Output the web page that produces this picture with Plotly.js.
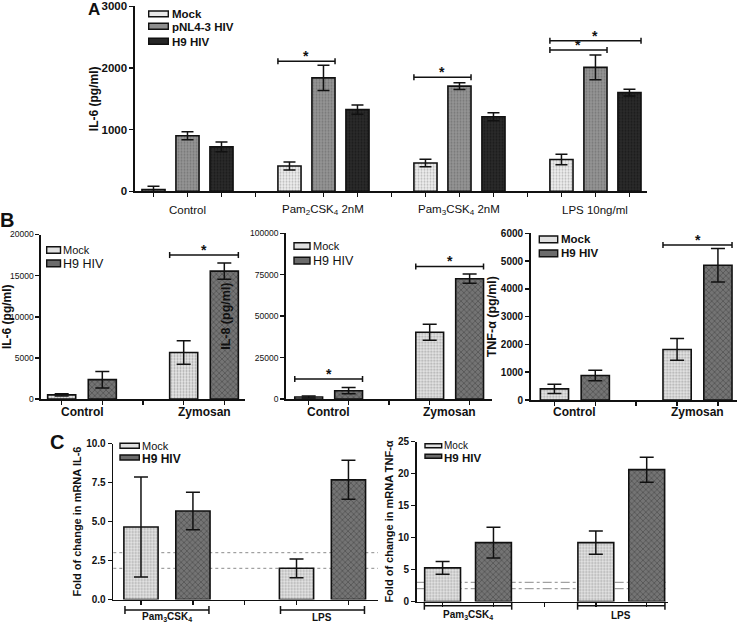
<!DOCTYPE html>
<html><head><meta charset="utf-8">
<script src="https://cdn.plot.ly/plotly-3.0.1.min.js"></script>
<style>html,body{margin:0;padding:0;background:#fff}#chart{width:741px;height:623px}</style>
</head><body><div id="chart"></div>
<script>
// ---------------- DATA ----------------
// Panel A : IL-6 (pg/ml)
const catsA = ['Control', 'Pam<sub>2</sub>CSK<sub>4</sub> 2nM', 'Pam<sub>3</sub>CSK<sub>4</sub> 2nM', 'LPS 10ng/ml'];
const seriesA = ['Mock', 'pNL4-3 HIV', 'H9 HIV'];
const mockA = [30, 410, 460, 515];
const mockAerr = [50, 65, 60, 85];
const pnlA = [900, 1840, 1705, 2010];
const pnlAerr = [65, 205, 55, 200];
const h9A = [720, 1325, 1210, 1600];
const h9Aerr = [80, 75, 65, 55];

// Panel B
const catsB = ['Control', 'Zymosan'];
const seriesB = ['Mock', 'H9 HIV'];
const il6Mock = [500, 5650];
const il6MockErr = [150, 1430];
const il6H9 = [2350, 15550];
const il6H9Err = [1000, 990];
const il8Mock = [1200, 40300];
const il8MockErr = [600, 4800];
const il8H9 = [5000, 72600];
const il8H9Err = [1900, 2800];
const tnfMock = [400, 1820];
const tnfMockErr = [170, 390];
const tnfH9 = [880, 4850];
const tnfH9Err = [190, 600];

// Panel C : fold change in mRNA
const catsC = ['Pam<sub>3</sub>CSK<sub>4</sub>', 'LPS'];
const seriesC = ['Mock', 'H9 HIV'];
const il6FoldMock = [4.65, 2.0];
const il6FoldMockErr = [3.2, 0.6];
const il6FoldH9 = [5.67, 7.67];
const il6FoldH9Err = [1.2, 1.25];
const tnfFoldMock = [5.25, 9.2];
const tnfFoldMockErr = [1.0, 1.8];
const tnfFoldH9 = [9.2, 20.6];
const tnfFoldH9Err = [2.4, 1.95];
const refLines = [2, 3];

// ---------------- STYLE / LAYOUT ----------------
const W = 741, H = 623;
const FONT = '"Liberation Sans", Arial, Helvetica, sans-serif';
const px = x => x / W;
const py = y => 1 - y / H;
const INK = '#111';

const STY = {
  mockA: {color: '#e8e8e8', pattern: {shape: '.', bgcolor: '#efefef', fgcolor: '#b8b8b8', size: 3, solidity: 0.35}},
  pnlA:  {color: '#8e8e8e', pattern: {shape: '.', bgcolor: '#969696', fgcolor: '#767676', size: 3, solidity: 0.35}},
  h9A:   {color: '#262626', pattern: {shape: '.', bgcolor: '#2b2b2b', fgcolor: '#1a1a1a', size: 3, solidity: 0.35}},
  mock:  {color: '#e0e0e0', pattern: {shape: '.', bgcolor: '#e8e8e8', fgcolor: '#a8a8a8', size: 3, solidity: 0.4}},
  h9:    {color: '#6b6b6b', pattern: {shape: 'x', bgcolor: '#747474', fgcolor: '#4c4c4c', size: 4, solidity: 0.3}}
};

const bold = (size) => ({family: FONT, size: size, color: INK, weight: 'bold'});
const norm = (size) => ({family: FONT, size: size, color: INK});

const panels = [
  {n: 1, cats: catsA,
   series: [{name: seriesA[0], y: mockA, err: mockAerr, st: 'mockA'},
            {name: seriesA[1], y: pnlA, err: pnlAerr, st: 'pnlA'},
            {name: seriesA[2], y: h9A, err: h9Aerr, st: 'h9A'}],
   xd: [135, 647], yd: [191.3, 6.3], xr: [-0.386, 3.379], yr: [0, 3000], dtick: 1000, fmt: 'd',
   slot: 0.25, bw: 0.17, cap: 6,
   tickFont: bold(11.5), title: 'IL-6 (pg/ml)', titleFont: bold(12), standoff: 0,
   labelY: 210, labelFont: norm(11.5),
   legend: {x0: 148.7, x1: 168.3, tx: 170, rows: [[11, 16.7, 13.5], [23.3, 29.3, 27], [38.3, 44.3, 41.5]],
            fonts: [bold(11.5), bold(11.5), bold(11.5)]},
   sig: [{c: 1, a: 0, b: 1, y: 2110}, {c: 2, a: 0, b: 1, y: 1850}, {c: 3, a: 0, b: 1, y: 2290}, {c: 3, a: 0, b: 2, y: 2440}],
   groups: null},
  {n: 2, cats: catsB,
   series: [{name: seriesB[0], y: il6Mock, err: il6MockErr, st: 'mock'},
            {name: seriesB[1], y: il6H9, err: il6H9Err, st: 'h9'}],
   xd: [41, 245], yd: [399, 234.5], xr: [-0.336, 1.336], yr: [0, 20000], dtick: 5000, fmt: 'd',
   slot: 0.333, bw: 0.23, cap: 7,
   tickFont: norm(8.5), title: 'IL-6 (pg/ml)', titleFont: bold(12), standoff: 0,
   labelY: 411.5, labelFont: bold(12),
   legend: {x0: 46.7, x1: 60.5, tx: 61, rows: [[246.7, 253.3, 250], [260, 266.7, 263.5]],
            fonts: [norm(11), norm(12.5)]},
   sig: [{c: 1, a: 0, b: 1, y: 17500}], groups: null},
  {n: 3, cats: catsB,
   series: [{name: seriesB[0], y: il8Mock, err: il8MockErr, st: 'mock'},
            {name: seriesB[1], y: il8H9, err: il8H9Err, st: 'h9'}],
   xd: [285.7, 492], yd: [399, 233.3], xr: [-0.355, 1.35], yr: [0, 100000], dtick: 25000, fmt: 'd',
   slot: 0.33, bw: 0.23, cap: 7,
   tickFont: norm(8.5), title: 'IL-8 (pg/ml)', titleFont: bold(12.5), standoff: 16,
   labelY: 411.5, labelFont: bold(12),
   legend: {x0: 294, x1: 310, tx: 311, rows: [[242.7, 249.3, 246], [257.3, 264, 260.5]],
            fonts: [norm(11), norm(12.5)]},
   sig: [{c: 0, a: 0, b: 1, y: 12100}, {c: 1, a: 0, b: 1, y: 80000}], groups: null},
  {n: 4, cats: catsB,
   series: [{name: seriesB[0], y: tnfMock, err: tnfMockErr, st: 'mock'},
            {name: seriesB[1], y: tnfH9, err: tnfH9Err, st: 'h9'}],
   xd: [530.7, 737], yd: [400, 233.3], xr: [-0.36, 1.322], yr: [0, 6000], dtick: 1000, fmt: 'd',
   slot: 0.333, bw: 0.23, cap: 7,
   tickFont: bold(10), title: 'TNF-α (pg/ml)', titleFont: bold(12.5), standoff: 1,
   labelY: 411.5, labelFont: bold(12),
   legend: {x0: 539.3, x1: 557.7, tx: 558.5, rows: [[236, 242.7, 239.5], [250, 256.7, 253]],
            fonts: [bold(11.5), bold(11.5)]},
   sig: [{c: 1, a: 0, b: 1, y: 5580}], groups: null},
  {n: 5, cats: catsC,
   series: [{name: seriesC[0], y: il6FoldMock, err: il6FoldMockErr, st: 'mock'},
            {name: seriesC[1], y: il6FoldH9, err: il6FoldH9Err, st: 'h9'}],
   xd: [113.3, 378], yd: [599.5, 443.5], xr: [-0.345, 1.357], yr: [0, 10], dtick: 2.5, fmt: '.1f',
   slot: 0.334, bw: 0.22, cap: 7,
   tickFont: bold(10), title: 'Fold of change in mRNA IL-6', titleFont: bold(11), standoff: 2,
   labelY: 617, labelFont: bold(10), refDash: 'dot',
   legend: {x0: 120, x1: 139.3, tx: 139.5, rows: [[443.3, 448.3, 445.5], [455, 460, 458.5]],
            fonts: [norm(11), bold(12)]},
   sig: [], groups: {y: 610, half: 0.27}},
  {n: 6, cats: catsC,
   series: [{name: seriesC[0], y: tnfFoldMock, err: tnfFoldMockErr, st: 'mock'},
            {name: seriesC[1], y: tnfFoldH9, err: tnfFoldH9Err, st: 'h9'}],
   xd: [416.7, 668], yd: [601.5, 441.5], xr: [-0.335, 1.305], yr: [0, 25], dtick: 5, fmt: 'd',
   slot: 0.332, bw: 0.234, cap: 7,
   tickFont: bold(10), title: 'Fold of change in mRNA TNF-α', titleFont: bold(11), standoff: 2,
   labelY: 615, labelFont: bold(10), refDash: 'dashdot',
   legend: {x0: 425, x1: 441.7, tx: 442, rows: [[443.8, 447.8, 445], [454.3, 458.3, 457.5]],
            fonts: [norm(10), bold(11.5)]},
   sig: [], groups: {y: 605.7, half: 0.285}}
];

const traces = [], shapes = [], annotations = [];
const layout = {
  width: W, height: H, margin: {l: 0, r: 0, t: 0, b: 0},
  paper_bgcolor: '#fff', plot_bgcolor: 'rgba(0,0,0,0)',
  barmode: 'overlay', showlegend: false,
  font: {family: FONT, color: INK},
  shapes: shapes, annotations: annotations
};

function vline(xref, x, yref, yc, h) {
  shapes.push({type: 'line', xref: xref, yref: yref, x0: x, x1: x, ysizemode: 'pixel', yanchor: yc,
               y0: -h, y1: h, line: {color: INK, width: 1.5}});
}

panels.forEach(p => {
  const sfx = p.n === 1 ? '' : String(p.n);
  const xr = 'x' + sfx, yr = 'y' + sfx;
  const k = p.series.length;
  const off = j => (j - (k - 1) / 2) * p.slot;
  const xs = p.cats.map((c, i) => i);

  p.series.forEach((s, j) => {
    const st = STY[s.st];
    traces.push({
      type: 'bar', name: s.name, x: xs, y: s.y, xaxis: xr, yaxis: yr,
      width: p.bw, offset: off(j) - p.bw / 2,
      marker: {color: st.color, pattern: st.pattern, line: {color: INK, width: 1.6}},
      error_y: {type: 'data', array: s.err, visible: true, color: INK, thickness: 1.5, width: p.cap},
      hoverinfo: 'skip'
    });
  });

  // tick marks at bar centres and between groups
  const tv = [];
  xs.forEach(i => {
    p.series.forEach((s, j) => tv.push(i + off(j)));
    if (i < xs.length - 1) tv.push(i + 0.5);
  });

  layout['xaxis' + sfx] = {
    domain: [px(p.xd[0]), px(p.xd[1])], range: p.xr, anchor: yr,
    showgrid: false, zeroline: false, showline: true, linecolor: INK, linewidth: 1.6,
    ticks: 'outside', ticklen: 4, tickwidth: 1.5, tickcolor: INK,
    tickmode: 'array', tickvals: tv, ticktext: tv.map(() => ' '), showticklabels: false, fixedrange: true
  };
  layout['yaxis' + sfx] = {
    domain: [py(p.yd[0]), py(p.yd[1])], range: p.yr, anchor: xr,
    showgrid: false, zeroline: false, showline: true, linecolor: INK, linewidth: 1.6,
    ticks: 'outside', ticklen: 4, tickwidth: 1.5, tickcolor: INK,
    dtick: p.dtick, tick0: 0, tickformat: p.fmt, tickfont: p.tickFont,
    title: {text: p.title, font: p.titleFont, standoff: p.standoff}, fixedrange: true
  };

  // category labels
  p.cats.forEach((c, i) => {
    annotations.push({text: c, x: i, xref: xr, y: py(p.labelY), yref: 'paper',
      xanchor: 'center', yanchor: 'middle', showarrow: false, font: p.labelFont});
  });

  // legend (manual, inside plot)
  p.series.forEach((s, j) => {
    const r = p.legend.rows[j];
    shapes.push({type: 'rect', xref: 'paper', yref: 'paper', x0: px(p.legend.x0), x1: px(p.legend.x1),
      y0: py(r[1]), y1: py(r[0]), fillcolor: STY[s.st].color, line: {color: INK, width: 1.4}});
    annotations.push({text: s.name, x: px(p.legend.tx), xref: 'paper', y: py(r[2]), yref: 'paper',
      xanchor: 'left', yanchor: 'middle', showarrow: false, font: p.legend.fonts[j]});
  });

  // significance brackets
  p.sig.forEach(g => {
    const x0 = g.c + off(g.a) - p.bw / 2, x1 = g.c + off(g.b) + p.bw / 2;
    shapes.push({type: 'line', xref: xr, yref: yr, x0: x0, x1: x1, y0: g.y, y1: g.y, line: {color: INK, width: 1.5}});
    vline(xr, x0, yr, g.y, 3);
    vline(xr, x1, yr, g.y, 3);
    annotations.push({text: '*', x: (x0 + x1) / 2, xref: xr, y: g.y, yref: yr, xanchor: 'center',
      yanchor: 'bottom', yshift: -5, showarrow: false, font: bold(14)});
  });

  // reference lines and group brackets (panel C)
  if (p.groups) {
    refLines.forEach(v => {
      shapes.push({type: 'line', xref: xr + ' domain', yref: yr, x0: 0, x1: 1, y0: v, y1: v, layer: 'below',
        line: {color: '#8a8a8a', width: 1, dash: p.refDash}});
    });
    xs.forEach(i => {
      const x0 = i - p.groups.half, x1 = i + p.groups.half, yy = py(p.groups.y);
      shapes.push({type: 'line', xref: xr, yref: 'paper', x0: x0, x1: x1, y0: yy, y1: yy, line: {color: INK, width: 1.5}});
      vline(xr, x0, 'paper', yy, 4);
      vline(xr, x1, 'paper', yy, 4);
    });
  }
});

// panel letters
[['A', 94, 10, 17], ['B', 7, 220, 20], ['C', 56.5, 441.5, 20]].forEach(l => {
  annotations.push({text: l[0], x: px(l[1]), y: py(l[2]), xref: 'paper', yref: 'paper',
    xanchor: 'center', yanchor: 'middle', showarrow: false, font: bold(l[3])});
});

Plotly.newPlot('chart', traces, layout, {displayModeBar: false, staticPlot: true});
</script>
</body></html>
